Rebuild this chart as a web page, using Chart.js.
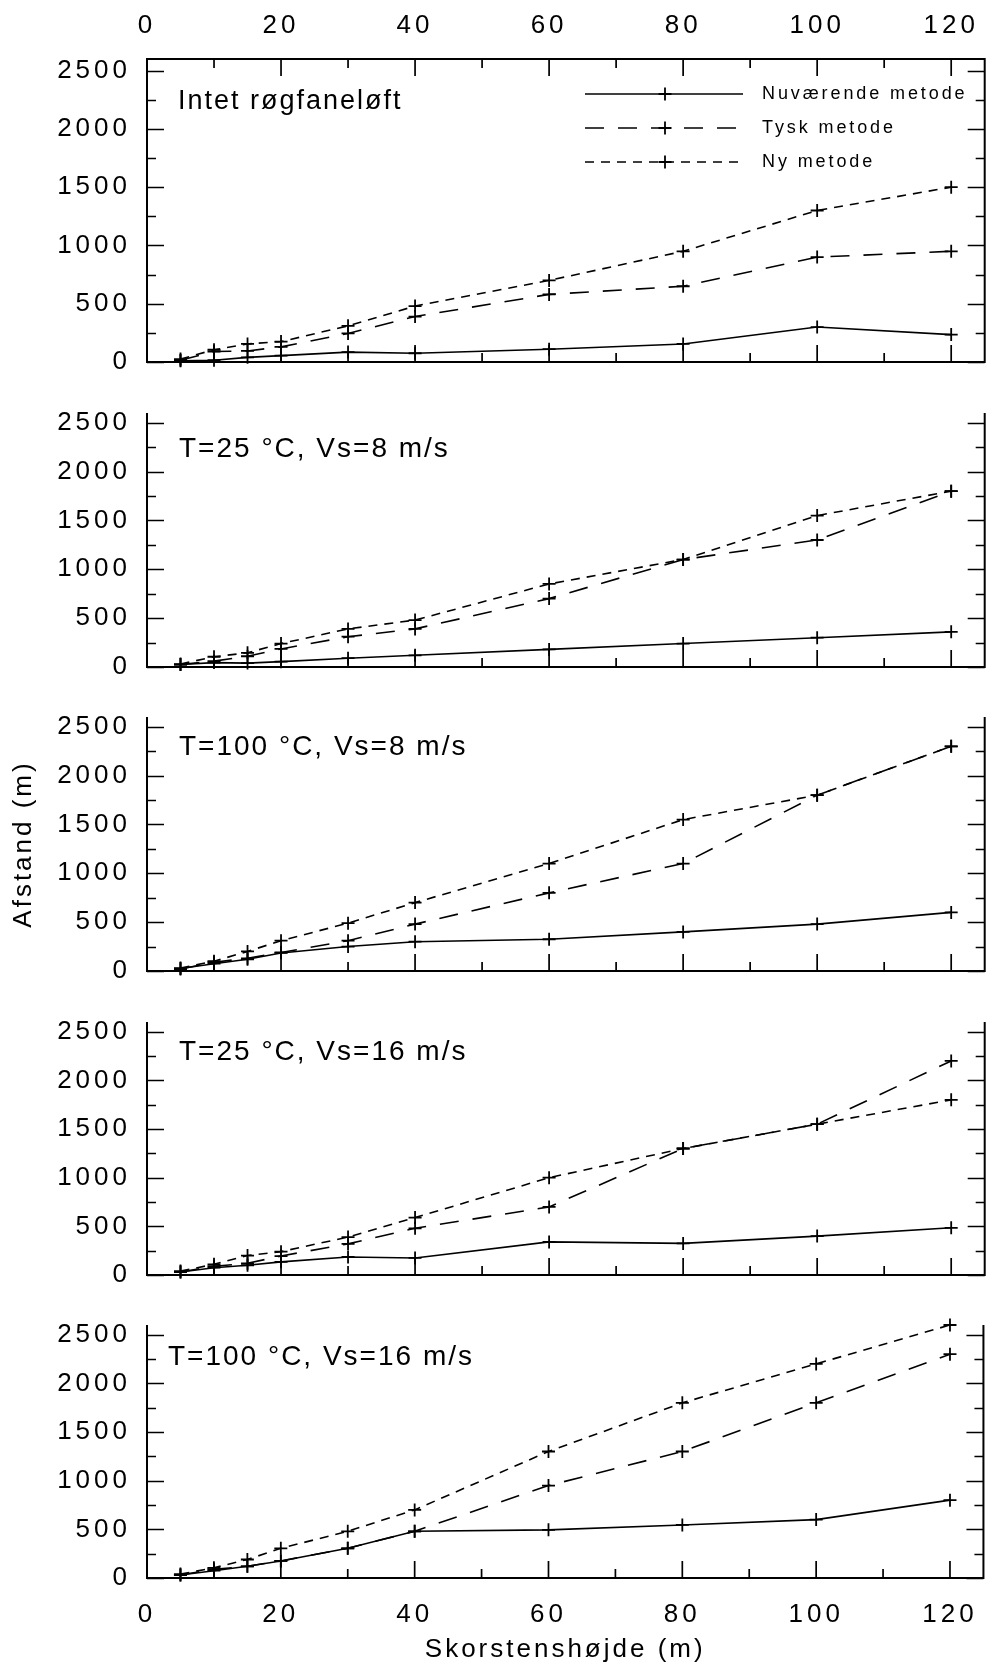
<!DOCTYPE html>
<html>
<head>
<meta charset="utf-8">
<script src="https://cdn.jsdelivr.net/npm/chart.js@4.4.1/dist/chart.umd.min.js"></script>
<style>
html,body{margin:0;padding:0;background:#fff;}
#wrap{position:relative;width:993px;height:1665px;background:#fff;overflow:hidden;}
#wrap canvas{position:absolute;left:0;}
</style>
</head>
<body>
<div id="wrap"></div>
<script>
// ---------- data ----------
const heights = [5, 10, 15, 20, 30, 40, 60, 80, 100, 120];
const seriesNames = ['Nuværende metode', 'Tysk metode', 'Ny metode'];
const panelTitles = ['Intet røgfaneløft', 'T=25 °C, Vs=8 m/s', 'T=100 °C, Vs=8 m/s', 'T=25 °C, Vs=16 m/s', 'T=100 °C, Vs=16 m/s'];
const xAxisTitle = 'Skorstenshøjde (m)';
const yAxisTitle = 'Afstand (m)';

const nuv1  = [10, 15, 40, 55, 85, 75, 110, 155, 300, 235];
const tysk1 = [15, 90, 95, 130, 245, 390, 580, 650, 900, 950];
const ny1   = [25, 105, 155, 175, 310, 480, 700, 950, 1300, 1500];

const nuv2  = [25, 45, 40, 55, 90, 120, 180, 240, 300, 360];
const tysk2 = [25, 60, 110, 185, 310, 390, 700, 1100, 1300, 1800];
const ny2   = [30, 105, 145, 240, 390, 480, 850, 1100, 1550, 1800];

const nuv3  = [25, 75, 120, 185, 250, 300, 325, 400, 480, 600];
const tysk3 = [20, 90, 130, 190, 310, 480, 800, 1100, 1800, 2300];
const ny3   = [30, 100, 200, 310, 490, 700, 1100, 1550, 1800, 2300];

const nuv4  = [30, 75, 100, 135, 185, 175, 340, 325, 400, 485];
const tysk4 = [30, 90, 120, 195, 320, 480, 700, 1300, 1550, 2200];
const ny4   = [40, 110, 200, 240, 390, 590, 1000, 1300, 1550, 1800];

const nuv5  = [30, 75, 120, 175, 305, 480, 495, 545, 600, 800];
const tysk5 = [30, 90, 120, 175, 305, 480, 950, 1300, 1800, 2300];
const ny5   = [40, 105, 190, 305, 480, 700, 1300, 1800, 2200, 2600];

const xTickValues = [0, 20, 40, 60, 80, 100, 120];
const xMinorValues = [10, 30, 50, 70, 90, 110];
const yTickValues = [0, 500, 1000, 1500, 2000, 2500];
const yMinorValues = [250, 750, 1250, 1750, 2250];
const xMin = 0, xMax = 125, yMin = 0, yMax = 2600;

// ---------- layout / style ----------
const FONT = "'Liberation Sans', Arial, Helvetica, sans-serif";
const W = 993;
const geom = [
  {top: 59,   bottom: 362,  canvasTop: 0,    canvasBottom: 400,  titleX: 178, titleBase: 109, titleSize: 27},
  {top: 413,  bottom: 667,  canvasTop: 373,  canvasBottom: 707,  titleX: 179, titleBase: 457, titleSize: 28},
  {top: 717,  bottom: 971,  canvasTop: 677,  canvasBottom: 1011, titleX: 179, titleBase: 755, titleSize: 28},
  {top: 1022, bottom: 1275, canvasTop: 982,  canvasBottom: 1315, titleX: 179, titleBase: 1060, titleSize: 28},
  {top: 1325, bottom: 1578, canvasTop: 1285, canvasBottom: 1665, titleX: 168, titleBase: 1365, titleSize: 28}
];
const seriesData = [
  [nuv1, tysk1, ny1], [nuv2, tysk2, ny2], [nuv3, tysk3, ny3], [nuv4, tysk4, ny4], [nuv5, tysk5, ny5]
];
const seriesDash = [[], [19, 14], [9, 7]];
const legendRows = [94, 128, 162];

const decoPlugin = {
  id: 'panelDeco',
  beforeDraw(chart, args, o) {
    // spacing used by the axis titles (drawn before datasets)
    chart.ctx.letterSpacing = '3px';
  },
  beforeDatasetsDraw(chart, args, o) {
    const {ctx, chartArea: a} = chart;
    const xs = chart.scales.x, ys = chart.scales.y;
    ctx.save();
    ctx.setLineDash([]);
    ctx.strokeStyle = '#000';
    ctx.lineWidth = 2;
    ctx.beginPath();
    ctx.moveTo(a.left, a.top);
    ctx.lineTo(a.left, a.bottom);
    ctx.lineTo(a.right, a.bottom);
    ctx.lineTo(a.right, a.top);
    if (o.topFrame) ctx.closePath();
    ctx.stroke();
    ctx.lineWidth = 1.7;
    ctx.beginPath();
    const yt = (vals, len) => vals.forEach(v => {
      const p = Math.round(ys.getPixelForValue(v)) + 0.5;
      ctx.moveTo(a.left, p); ctx.lineTo(a.left + len, p);
      ctx.moveTo(a.right, p); ctx.lineTo(a.right - len, p);
    });
    const xt = (vals, len) => vals.forEach(v => {
      const p = xs.getPixelForValue(v);
      ctx.moveTo(p, a.bottom); ctx.lineTo(p, a.bottom - len);
      if (o.topFrame) { ctx.moveTo(p, a.top); ctx.lineTo(p, a.top + len); }
    });
    yt(yTickValues, 17); yt(yMinorValues, 9);
    xt(xTickValues, 17); xt(xMinorValues, 9);
    ctx.stroke();
    ctx.restore();
  },
  afterDatasetsDraw(chart, args, o) {
    const {ctx} = chart;
    const off = o.canvasTop;
    ctx.save();
    ctx.fillStyle = '#000';
    ctx.letterSpacing = '2px';
    ctx.font = o.titleSize + 'px ' + FONT;
    ctx.textAlign = 'left';
    ctx.textBaseline = 'alphabetic';
    ctx.fillText(o.title, o.titleX, o.titleBase - off);
    if (o.legend) {
      chart.data.datasets.forEach((ds, i) => {
        const y = legendRows[i] - off;
        ctx.save();
        ctx.strokeStyle = '#000';
        ctx.lineWidth = ds.borderWidth;
        ctx.setLineDash(ds.borderDash);
        ctx.beginPath(); ctx.moveTo(585, y); ctx.lineTo(743, y); ctx.stroke();
        ctx.setLineDash([]);
        ctx.lineWidth = ds.pointBorderWidth;
        const r = ds.pointRadius;
        ctx.beginPath();
        ctx.moveTo(665 - r, y); ctx.lineTo(665 + r, y);
        ctx.moveTo(665, y - r); ctx.lineTo(665, y + r);
        ctx.stroke();
        ctx.restore();
        ctx.letterSpacing = '2.9px';
        ctx.font = '18px ' + FONT;
        ctx.textBaseline = 'middle';
        ctx.fillText(ds.label, 762, y);
      });
    }
    ctx.restore();
    // spacing used by the tick labels (drawn after datasets, z = 1)
    ctx.letterSpacing = '4px';
  }
};

const wrap = document.getElementById('wrap');
geom.forEach((g, i) => {
  const isFirst = i === 0, isLast = i === geom.length - 1;
  const H = g.canvasBottom - g.canvasTop;
  const cv = document.createElement('canvas');
  cv.width = W; cv.height = H;
  cv.style.top = g.canvasTop + 'px';
  cv.style.width = W + 'px'; cv.style.height = H + 'px';
  wrap.appendChild(cv);

  const datasets = seriesData[i].map((vals, k) => ({
    label: seriesNames[k],
    data: heights.map((h, j) => ({x: h, y: vals[j]})),
    borderColor: '#000',
    borderWidth: 1.6,
    borderDash: seriesDash[k],
    pointStyle: 'cross',
    pointRadius: 6.5,
    pointBorderWidth: 1.8,
    pointBorderColor: '#000',
    pointBackgroundColor: '#000',
    fill: false,
    tension: 0,
    clip: false
  }));

  const tickFont = {family: FONT, size: 26};
  const plain = v => String(v);
  const scales = {
    x: {
      type: 'linear', position: 'bottom', min: xMin, max: xMax,
      afterBuildTicks: s => { s.ticks = xTickValues.map(v => ({value: v})); },
      afterFit: s => { s.height = g.canvasBottom - g.bottom; },
      grid: {display: false, drawTicks: false},
      border: {display: false},
      ticks: {display: isLast, z: 1, padding: 21, font: tickFont, color: '#000', maxRotation: 0, autoSkip: false, callback: plain},
      title: {display: isLast, text: xAxisTitle, font: {family: FONT, size: 26}, color: '#000', padding: {top: 0, bottom: 0}}
    },
    y: {
      type: 'linear', position: 'left', min: yMin, max: yMax,
      afterBuildTicks: s => { s.ticks = yTickValues.map(v => ({value: v})); },
      afterFit: s => { s.width = 147; },
      grid: {display: false, drawTicks: false},
      border: {display: false},
      ticks: {z: 1, padding: 16, font: tickFont, color: '#000', autoSkip: false, callback: plain},
      title: {display: i === 2, text: yAxisTitle, font: {family: FONT, size: 26}, color: '#000', padding: {top: 8, bottom: 0}}
    }
  };
  if (isFirst) {
    scales.xTop = {
      type: 'linear', position: 'top', min: xMin, max: xMax,
      afterBuildTicks: s => { s.ticks = xTickValues.map(v => ({value: v})); },
      afterFit: s => { s.height = g.top - g.canvasTop; },
      grid: {display: false, drawTicks: false},
      border: {display: false},
      ticks: {z: 1, padding: 18, font: tickFont, color: '#000', maxRotation: 0, autoSkip: false, callback: plain}
    };
  }

  new Chart(cv, {
    type: 'line',
    data: {datasets},
    options: {
      responsive: false,
      maintainAspectRatio: false,
      animation: false,
      devicePixelRatio: 1,
      layout: {padding: {top: isFirst ? 0 : g.top - g.canvasTop, bottom: 0, left: 0, right: 2}},
      plugins: {
        legend: {display: false},
        tooltip: {enabled: false},
        panelDeco: {
          topFrame: isFirst, legend: isFirst, title: panelTitles[i], titleSize: g.titleSize,
          titleX: g.titleX, titleBase: g.titleBase, canvasTop: g.canvasTop
        }
      },
      scales
    },
    plugins: [decoPlugin]
  });
});
</script>
</body>
</html>
